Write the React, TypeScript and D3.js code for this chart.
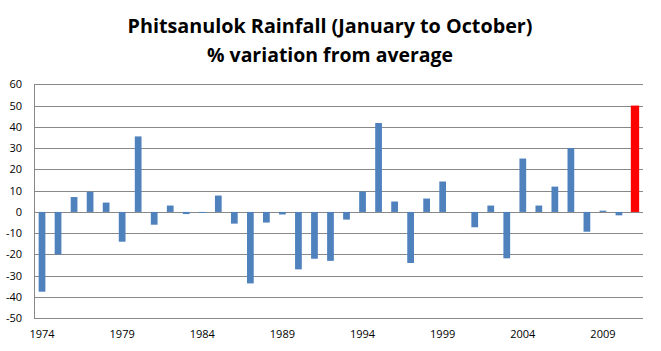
import React, { useRef, useEffect } from "react";
import * as d3 from "d3";

const years = d3.range(1974, 2012);
const values = [
  -37.5, -20, 7, 9.5, 4.4, -14, 35.5, -6, 3, -1, -0.5, 7.7,
  -5.5, -33.6, -5, -1.2, -27, -22, -23, -3.6, 9.6, 41.8, 4.9, -24,
  6.3, 14.3, 0, -7.2, 3, -21.8, 25.1, 3, 11.9, 30, -9.3, 0.6, -1.6, 50,
];
const yTicks = [60, 50, 40, 30, 20, 10, 0, -10, -20, -30, -40, -50];
const xLabels = [1974, 1979, 1984, 1989, 1994, 1999, 2004, 2009];
const highlightYear = 2011;

const W = 661;
const H = 351;

const App = () => {
  const ref = useRef<SVGSVGElement>(null);

  useEffect(() => {
    const svg = d3.select(ref.current);
    svg.selectAll("*").remove();

    const left = 34, right = 643, top = 84.3, bottom = 318.3;

    const x = d3.scaleBand<number>().domain(years).range([left, right]).paddingInner(0.58).paddingOuter(0.29);
    const y = d3.scaleLinear().domain([-50, 60]).range([bottom, top]);

    // gridlines
    svg.append("g")
      .selectAll("line")
      .data(yTicks)
      .enter()
      .append("line")
      .attr("x1", left)
      .attr("x2", right)
      .attr("y1", (d) => Math.round(y(d)) + 0.5)
      .attr("y2", (d) => Math.round(y(d)) + 0.5)
      .attr("stroke", "#888888")
      .attr("stroke-width", 1);

    // axis line
    svg.append("line")
      .attr("x1", left + 0.5).attr("x2", left + 0.5)
      .attr("y1", top).attr("y2", bottom)
      .attr("stroke", "#888888");

    // bars
    svg.append("g")
      .selectAll("rect")
      .data(years.map((yr, i) => ({ yr, v: values[i] })))
      .enter()
      .append("rect")
      .attr("x", (d) => (d.yr === highlightYear ? x(d.yr)! - 0.8 : x(d.yr)!))
      .attr("width", (d) => (d.yr === highlightYear ? x.bandwidth() + 1.6 : x.bandwidth()))
      .attr("y", (d) => y(Math.max(0, d.v)))
      .attr("height", (d) => Math.abs(y(d.v) - y(0)))
      .attr("fill", (d) => (d.yr === highlightYear ? "#FF0000" : "#4F81BD"));

    // y labels
    svg.append("g")
      .selectAll("text")
      .data(yTicks)
      .enter()
      .append("text")
      .attr("x", 22)
      .attr("y", (d) => y(d) + 4)
      .attr("text-anchor", "end")
      .attr("font-family", "'Open Sans', sans-serif")
      .attr("font-size", 11)
      .attr("fill", "#000")
      .text((d) => d);

    // x labels
    svg.append("g")
      .selectAll("text")
      .data(xLabels)
      .enter()
      .append("text")
      .attr("x", (d) => x(d)! + x.bandwidth() / 2)
      .attr("y", 338)
      .attr("text-anchor", "middle")
      .attr("font-family", "'Open Sans', sans-serif")
      .attr("font-size", 11)
      .attr("fill", "#000")
      .text((d) => d);

    // title
    const title = ["Phitsanulok Rainfall (January to October)", "% variation from average"];
    const lengths = [405, 246];
    svg.append("g")
      .selectAll("text")
      .data(title)
      .enter()
      .append("text")
      .attr("x", 330)
      .attr("y", (d, i) => 33 + i * 29)
      .attr("text-anchor", "middle")
      .attr("font-family", "'Open Sans', sans-serif")
      .attr("font-weight", "bold")
      .attr("font-size", 19)
      .attr("textLength", (d, i) => lengths[i])
      .attr("lengthAdjust", "spacingAndGlyphs")
      .attr("fill", "#000")
      .text((d) => d);
  }, []);

  return (
    <svg ref={ref} width={W} height={H} style={{ position: "absolute", left: 0, top: 0, background: "#fff" }} />
  );
};

export default App;
